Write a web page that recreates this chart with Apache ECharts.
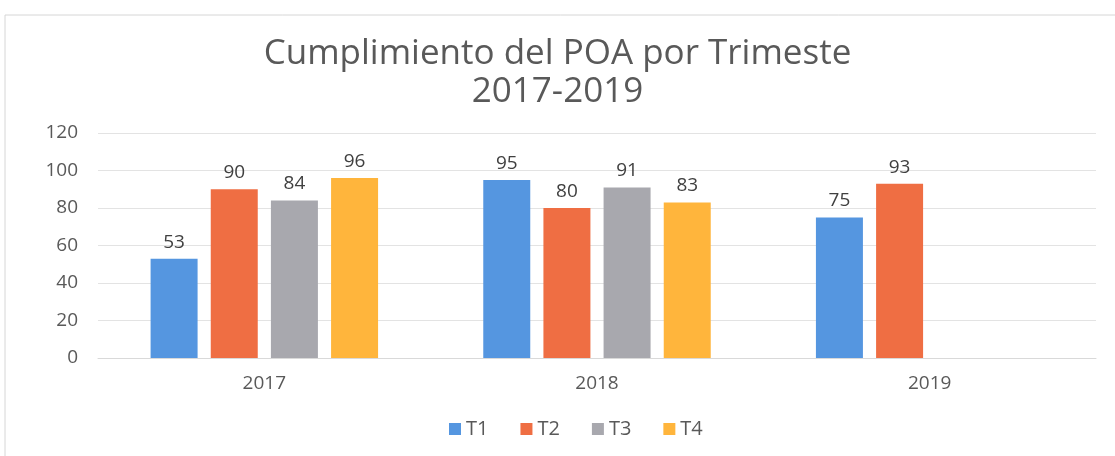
<!DOCTYPE html>
<html>
<head>
<meta charset="utf-8">
<title>Cumplimiento del POA por Trimeste</title>
<script src="https://cdn.jsdelivr.net/npm/echarts@6/dist/echarts.min.js"></script>
<style>
	html, body { margin: 0; padding: 0; background: #fff; }
	#chart { width: 1115px; height: 456px; }
</style>
</head>
<body>
<div id="chart"></div>
<script>
	var years = ["2017", "2018", "2019"];
	var t1 = [53, 95, 75];
	var t2 = [90, 80, 93];
	var t3 = [84, 91, null];
	var t4 = [96, 83, null];
	var seriesNames = ["T1", "T2", "T3", "T4"];
	var colors = ["#5596e0", "#ef6e43", "#a8a8ae", "#ffb53c"];

	var font = "'Open Sans', Lato, 'Liberation Sans', sans-serif";

	function makeSeries(name, data, color){
		return {
			name: name,
			type: "bar",
			data: data,
			barWidth: 47,
			barGap: "28%",
			itemStyle: { color: color },
			label: {
				show: true,
				position: "top",
				distance: 7,
				color: "#404040",
				fontSize: 19,
				fontFamily: font
			}
		};
	}

	var chart = echarts.init(document.getElementById("chart"));
	chart.setOption({
		animation: false,
		title: {
			text: "Cumplimiento del POA por Trimeste\n2017-2019",
			left: "center",
			top: 30,
			textStyle: {
				color: "#595959",
				fontSize: 35,
				fontWeight: "normal",
				fontFamily: font,
				lineHeight: 38
			}
		},
		graphic: [{
			type: "rect",
			shape: { x: 5, y: 15, width: 1120, height: 460 },
			style: { fill: "none", stroke: "#d6d6d6", lineWidth: 1 },
			silent: true
		}],
		legend: {
			data: seriesNames,
			bottom: 12,
			left: 444,
			itemWidth: 12,
			itemHeight: 12,
			itemGap: 32,
			icon: "rect",
			textStyle: { color: "#595959", fontSize: 20, fontFamily: font }
		},
		grid: { left: 98, right: 19, top: 133, bottom: 98 },
		xAxis: {
			type: "category",
			data: years,
			axisLine: { lineStyle: { color: "#d9d9d9" } },
			axisTick: { show: false },
			axisLabel: { color: "#595959", fontSize: 19, fontFamily: font, margin: 16 }
		},
		yAxis: {
			type: "value",
			min: 0,
			max: 120,
			interval: 20,
			axisLine: { show: false },
			axisTick: { show: false },
			splitLine: { lineStyle: { color: "#e3e3e3" } },
			axisLabel: { color: "#595959", fontSize: 19, fontFamily: font, margin: 20 }
		},
		series: [
			makeSeries(seriesNames[0], t1, colors[0]),
			makeSeries(seriesNames[1], t2, colors[1]),
			makeSeries(seriesNames[2], t3, colors[2]),
			makeSeries(seriesNames[3], t4, colors[3])
		]
	});
</script>
</body>
</html>
